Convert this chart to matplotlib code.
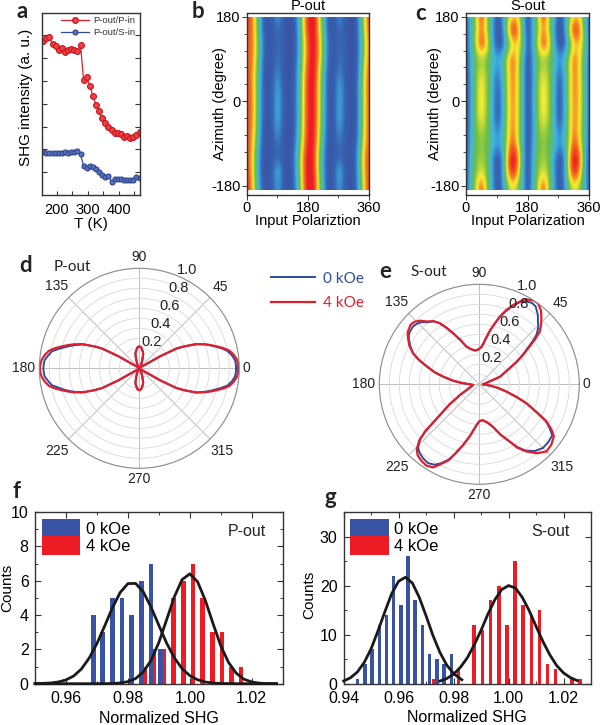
import numpy as np
import matplotlib
matplotlib.use('Agg')
import matplotlib.pyplot as plt
from matplotlib.colors import LinearSegmentedColormap
from matplotlib.patches import Rectangle
from matplotlib.ticker import MultipleLocator

# panel a
temps = [157, 167, 177, 187, 197, 207, 217, 227, 237, 247, 257, 267, 277, 287, 297, 307,
         317, 327, 337, 347, 357, 367, 377, 387, 397, 407, 417, 427, 437, 447, 457, 467]
shg_pp = [6.77, 6.87, 6.94, 6.62, 6.54, 6.36, 6.43, 6.29, 6.36, 6.39, 6.36, 6.33, 6.58, 5.04, 5.16, 4.80,
          4.34, 3.93, 3.67, 3.38, 3.17, 2.98, 2.85, 2.70, 2.73, 2.66, 2.56, 2.59, 2.49, 2.56, 2.65, 2.78]
shg_ps = [1.87, 1.86, 1.83, 1.83, 1.83, 1.86, 1.83, 1.87, 1.83, 1.87, 1.90, 1.93, 1.78, 1.29, 1.17, 1.27,
          1.24, 1.13, 1.02, 0.88, 0.80, 0.85, 0.58, 0.70, 0.69, 0.69, 0.64, 0.64, 0.64, 0.64, 0.79, 0.73]

# panels b, c: intensity rows from azimuth 180 down to -180, columns 0..360 every 15 deg
map_b = [
    [.88, .80, .44, .12, .00, .08, .24, .08, .00, .03, .22, .60, .92, .98, .66, .30, .03, .05, .22, .08, .01, .00, .24, .62, .88],
    [.85, .80, .46, .14, .00, .05, .12, .05, .00, .02, .20, .60, .92, .98, .68, .32, .04, .03, .12, .05, .01, .00, .22, .60, .85],
    [.80, .80, .50, .18, .01, .05, .12, .08, .00, .00, .18, .53, .84, .97, .74, .38, .08, .03, .12, .08, .02, .00, .18, .55, .80],
    [.82, .80, .48, .16, .00, .05, .14, .08, .00, .01, .20, .55, .86, .97, .72, .36, .06, .03, .13, .10, .03, .00, .20, .58, .82],
    [.83, .76, .42, .13, .00, .06, .18, .06, .00, .03, .24, .60, .90, .96, .66, .30, .03, .04, .18, .07, .02, .00, .24, .64, .84],
    [.85, .77, .42, .12, .00, .08, .26, .08, .00, .03, .25, .62, .92, .96, .63, .28, .02, .05, .26, .10, .02, .00, .26, .66, .85],
    [.85, .78, .42, .12, .00, .08, .28, .08, .00, .03, .25, .63, .92, .95, .63, .28, .02, .05, .26, .10, .02, .00, .25, .65, .85],
    [.85, .78, .42, .12, .00, .08, .28, .08, .00, .03, .25, .63, .92, .95, .63, .28, .02, .05, .28, .10, .02, .00, .25, .65, .85],
    [.85, .76, .40, .10, .00, .08, .24, .07, .00, .03, .26, .63, .93, .94, .62, .26, .02, .05, .22, .08, .02, .00, .26, .65, .85],
    [.84, .72, .36, .08, .00, .06, .15, .06, .00, .05, .30, .68, .95, .93, .58, .22, .01, .05, .15, .06, .02, .02, .30, .68, .84],
    [.88, .68, .30, .05, .00, .05, .10, .05, .00, .08, .38, .75, .98, .90, .50, .18, .00, .04, .10, .05, .02, .04, .38, .75, .88],
    [.88, .68, .30, .05, .00, .10, .30, .10, .00, .07, .36, .76, .99, .92, .52, .18, .00, .08, .30, .10, .01, .04, .35, .72, .88],
    [.92, .72, .34, .08, .00, .08, .22, .08, .00, .05, .30, .72, .98, .96, .56, .22, .00, .06, .22, .08, .01, .03, .30, .68, .92],
]
map_c = [
    [.10, .30, .55, .88, .55, .28, .05, .15, .45, .62, .62, .35, .00, .30, .55, .88, .55, .28, .05, .15, .45, .62, .62, .35, .08],
    [.05, .28, .55, .78, .55, .25, .02, .10, .58, .97, .82, .32, .00, .25, .50, .75, .55, .22, .00, .12, .60, .97, .82, .35, .03],
    [.05, .28, .62, .88, .70, .30, .03, .03, .30, .55, .66, .45, .02, .28, .62, .88, .70, .28, .02, .03, .35, .60, .66, .45, .04],
    [.04, .27, .45, .50, .45, .33, .25, .30, .60, .82, .62, .30, .00, .22, .45, .50, .45, .35, .20, .30, .55, .82, .62, .35, .03],
    [.03, .25, .48, .60, .50, .30, .12, .26, .55, .78, .62, .28, .00, .22, .48, .60, .50, .32, .08, .24, .55, .78, .62, .35, .03],
    [.02, .22, .50, .66, .50, .30, .07, .22, .55, .78, .62, .28, .00, .22, .50, .66, .52, .30, .04, .22, .55, .78, .65, .35, .03],
    [.02, .22, .50, .68, .50, .30, .05, .20, .55, .76, .62, .28, .00, .22, .50, .68, .52, .30, .02, .22, .55, .76, .65, .35, .03],
    [.02, .22, .50, .65, .50, .28, .04, .20, .55, .76, .62, .28, .00, .22, .50, .65, .52, .30, .02, .22, .55, .76, .65, .35, .03],
    [.02, .25, .47, .56, .47, .30, .12, .24, .55, .78, .60, .28, .00, .22, .47, .56, .47, .32, .10, .24, .55, .78, .60, .35, .03],
    [.03, .27, .45, .48, .45, .33, .22, .30, .55, .85, .60, .28, .00, .22, .45, .48, .45, .35, .20, .30, .55, .86, .62, .33, .03],
    [.03, .30, .47, .52, .47, .20, .03, .12, .70, 1.0, .85, .28, .00, .28, .47, .52, .47, .20, .03, .10, .70, 1.0, .85, .28, .03],
    [.02, .33, .50, .58, .48, .22, .03, .16, .68, .97, .74, .25, .00, .28, .50, .58, .48, .22, .03, .16, .68, .97, .74, .25, .03],
    [.04, .33, .58, .85, .52, .25, .03, .12, .45, .60, .50, .28, .00, .30, .58, .85, .52, .25, .03, .12, .45, .60, .50, .28, .04],
]

# panel d
theta_d = [0, 3, 5, 8, 11, 13.5, 16, 18, 20, 23, 26, 28, 30, 31, 38, 50, 60, 65, 70, 75, 78, 85, 90, 95, 102,
           105, 110, 115, 120, 130, 142, 149, 150, 152, 154, 157, 160, 162, 164, 166.5, 169, 172, 175, 177, 180,
           183, 185, 188, 191, 193.5, 196, 198, 200, 203, 206, 208, 210, 211, 218, 230, 240, 245, 250, 255, 258,
           265, 270, 275, 282, 285, 290, 295, 300, 310, 322, 329, 330, 332, 334, 337, 340, 342, 344, 346.5, 349,
           352, 355, 357, 360]
r_d_red = [.99, .988, .98, .955, .92, .865, .80, .75, .70, .62, .50, .42, .24, .08, .02, .01, .02, .05, .09, .15, .17, .21, .22, .21, .17,
           .15, .09, .05, .02, .01, .02, .08, .24, .42, .50, .62, .70, .75, .80, .865, .92, .955, .98, .988, .995,
           .988, .98, .955, .92, .865, .80, .75, .70, .62, .50, .42, .24, .08, .02, .01, .02, .05, .09, .15, .17,
           .21, .22, .21, .17, .15, .09, .05, .02, .01, .02, .08, .24, .42, .50, .62, .70, .75, .80, .865, .92,
           .955, .98, .988, .99]
r_d_blue = [.97, .965, .96, .935, .90, .85, .79, .745, .70, .62, .50, .42, .24, .08, .02, .01, .02, .05, .09, .15, .17, .21, .22, .21, .17,
            .15, .09, .05, .02, .01, .02, .08, .24, .42, .50, .61, .68, .725, .77, .83, .89, .92, .95, .955, .96,
            .955, .95, .92, .89, .83, .78, .735, .69, .61, .50, .42, .24, .08, .02, .01, .02, .05, .09, .15, .17,
            .21, .22, .21, .17, .15, .09, .05, .02, .01, .02, .08, .24, .42, .50, .62, .69, .735, .78, .84, .90,
            .935, .96, .965, .97]

# panel e
theta_e = [0, 20, 31, 34, 37, 39, 41, 44, 47, 50, 54, 57, 61, 64, 67, 70, 73, 76, 79, 82, 86, 91, 97, 103, 109, 113, 117,
           120, 123, 126, 130, 133, 136, 139, 143, 145, 147, 151, 155, 158, 161, 165, 168, 172, 175, 186,
           209, 214, 218, 221, 223, 226, 229, 233, 237, 241, 244, 248, 251, 255, 260, 266, 270, 275, 282, 288, 293,
           298, 301, 305, 310, 315, 320, 325, 328, 331, 334, 338, 341, 345, 349, 353, 360]
r_e_red = [.04, .22, .44, .53, .63, .72, .80, .86, .91, .96, 1.0, 1.0, .97, .92, .86, .79, .71, .62, .54, .46, .38, .35, .34, .36, .40, .48, .57,
           .65, .73, .78, .82, .87, .90, .91, .89, .875, .85, .80, .73, .65, .56, .46, .37, .27, .19, .06,
           .22, .36, .50, .72, .82, .90, .94, .96, .97, .95, .89, .82, .73, .63, .52, .41, .37, .36, .39, .45, .55,
           .65, .74, .82, .90, .95, .94, .91, .85, .77, .64, .51, .40, .28, .19, .11, .04]
r_e_blue = [.04, .22, .43, .52, .61, .69, .76, .82, .86, .91, .96, .97, .95, .91, .85, .78, .71, .62, .54, .46, .38, .35, .34, .36, .40, .48, .57,
            .65, .73, .78, .81, .85, .87, .88, .87, .86, .84, .79, .73, .65, .56, .46, .37, .27, .19, .06,
            .22, .36, .50, .71, .81, .88, .91, .93, .94, .92, .88, .81, .73, .63, .52, .41, .37, .36, .39, .45, .55,
            .65, .73, .81, .87, .90, .90, .89, .83, .76, .64, .51, .40, .28, .19, .11, .04]

# polar angle labels
angle_ticks = [0, 45, 90, 135, 180, 225, 270, 315]
angle_label_r = [1.073, 1.146, 1.11, 1.17, 1.153, 1.17, 1.107, 1.17]

# panel f
f_blue_x = [.9688, .9718, .9750, .9781, .9812, .9843, .9875, .9906]
f_blue_n = [4, 3, 5, 5, 4, 6, 7, 2]
f_red_x = [.9853, .9884, .9916, .9948, .9979, 1.0010, 1.0042, 1.0073, 1.0104, 1.0135, 1.0165]
f_red_n = [1, 2, 2, 5, 6, 7, 5, 3, 3, 1, 1]
f_fit_blue_x = [.950, .9525, .955, .9575, .960, .9625, .965, .9675, .970, .9725, .975, .9775, .980, .9825, .985, .9875,
                .990, .9925, .995, .9975, 1.000, 1.0025, 1.005, 1.0075, 1.010, 1.015, 1.028]
f_fit_blue_y = [.005, .02, .04, .10, .22, .45, .86, 1.49, 2.34, 3.36, 4.42, 5.31, 5.83, 5.84, 5.34, 4.45,
                3.40, 2.37, 1.51, .88, .47, .23, .10, .04, .015, 0, 0]
f_fit_red_x = [.950, .970, .975, .9775, .980, .9825, .985, .9875, .990, .9925, .995, .9975, 1.000, 1.0025, 1.005,
               1.0075, 1.010, 1.0125, 1.015, 1.0175, 1.020, 1.0225, 1.025, 1.028]
f_fit_red_y = [0, 0, .01, .04, .12, .30, .69, 1.36, 2.40, 3.72, 5.06, 6.06, 6.40, 5.94, 4.86,
               3.50, 2.21, 1.24, .61, .26, .10, .03, .01, 0]

# panel g
g_blue_x = [.9451, .9477, .9504, .9530, .9555, .9582, .9608, .9635, .9660, .9687, .9713, .9740, .9766, .9792]
g_blue_n = [1, 4, 7, 12, 14, 22, 16, 26, 17, 12, 6, 5, 4, 6]
g_red_x = [.9729, .9818, .9875, .9905, .9935, .9965, .9994, 1.0023, 1.0053, 1.0083, 1.0112, 1.0141, 1.0171, 1.0230, 1.0259]
g_red_n = [1, 3, 12, 11, 17, 20, 12, 25, 16, 14, 15, 4, 3, 1, 1]
g_fit_blue_x = [.940, .9425, .945, .9475, .950, .9525, .955, .9575, .960, .9625, .965, .9675, .970, .9725, .975, .9775, .980, .9825, .983]
g_fit_blue_y = [.55, 1.22, 2.40, 4.36, 7.15, 10.8, 14.7, 18.4, 20.9, 21.7, 20.5, 17.6, 13.8, 9.8, 6.4, 3.8, 2.06, 1.0, .8]
g_fit_red_x = [.975, .9775, .980, .9825, .985, .9875, .990, .9925, .995, .9975, 1.000, 1.0025, 1.005, 1.0075, 1.010, 1.0125, 1.015, 1.0175, 1.020, 1.0225, 1.025]
g_fit_red_y = [.54, 1.05, 1.94, 3.36, 5.3, 7.9, 10.9, 14.2, 17.1, 19.2, 20.0, 19.5, 17.6, 14.9, 11.7, 8.6, 5.9, 3.7, 2.2, 1.24, .63]

plt.rcParams['font.family'] = ['Liberation Sans', 'DejaVu Sans']
plt.rcParams['axes.unicode_minus'] = False
W, H = 600, 725
BLUE = '#3953A4'
RED = '#ED1C24'
DARK = '#333333'
fig = plt.figure(figsize=(6, 7.25), dpi=100)
cmap = LinearSegmentedColormap.from_list('rainbow_map', [
    (0.0, '#3953A4'), (0.1, '#3766B4'), (0.25, '#3DB4E6'), (0.45, '#6DBE45'),
    (0.62, '#F9ED32'), (0.75, '#F58220'), (0.92, '#ED1C24'), (1.0, '#E3202A')])


def axes_px(x0, y0, x1, y1, **kw):
    # pixel box with y measured from the top of the picture
    return fig.add_axes([x0 / W, 1 - y1 / H, (x1 - x0) / W, (y1 - y0) / H], **kw)


def letter(x, y, s):
    fig.text(x / W, 1 - y / H, s, family='Lato', weight='bold', size=16, ha='center', va='center', color='#222222')


def style_spines(ax):
    for sp in ax.spines.values():
        sp.set_color(DARK)
        sp.set_linewidth(1.0)


# panel a
ax = axes_px(42, 12.7, 139.5, 195)
ax.plot(temps, shg_pp, '-o', color='#E0202A', lw=0.9, ms=4.2, mec='#C4161C', mfc='#EE4046', mew=0.8, label='P-out/P-in')
ax.plot(temps, shg_ps, '-o', color='#2F4A9C', lw=0.9, ms=3.6, mec='#2E4692', mfc='#5A70B8', mew=0.8, label='P-out/S-in')
ax.set_xlim(153, 467)
ax.set_ylim(0, 8)
ax.set_xticks([200, 300, 400])
ax.xaxis.set_minor_locator(MultipleLocator(50))
ax.set_yticks(range(1, 8))
ax.set_yticklabels([])
ax.tick_params(axis='y', direction='in', left=True, right=True, length=3.5, width=0.8, color=DARK)
ax.tick_params(axis='x', which='both', direction='in', length=3, width=0.8, labelsize=10.5, pad=5.5, color=DARK)
ax.set_xlabel('T (K)', size=11, labelpad=0)
ax.set_ylabel('SHG intensity (a. u.)', size=11)
ax.yaxis.set_label_coords(-0.092, 0.537)
ax.legend(loc='upper right', frameon=False, fontsize=6.8, handlelength=3, handletextpad=0.5,
          borderaxespad=0.1, borderpad=0.3, labelspacing=0.28, labelcolor='#333333')
style_spines(ax)


# panels b, c
def heat(x0, x1, data, title, xlabel, ylab_x):
    a = axes_px(x0, 12.7, x1, 194.7)
    im = a.imshow(data, extent=[-7.5, 367.5, -195, 195], aspect='auto', cmap=cmap, vmin=0, vmax=1,
                  interpolation='bicubic', interpolation_stage='data')
    im.set_clip_path(Rectangle((0, -189), 360, 369, transform=a.transData))
    a.set_xlim(0, 360)
    a.set_ylim(-199, 188.5)
    a.set_xticks([0, 180, 360])
    a.set_yticks([-180, 0, 180])
    a.xaxis.set_minor_locator(MultipleLocator(90))
    a.yaxis.set_minor_locator(MultipleLocator(36))
    a.tick_params(which='major', length=3.5, width=0.7, labelsize=10.5, pad=1, color=DARK)
    a.tick_params(which='minor', length=2, width=0.6, color=DARK)
    a.set_xlabel(xlabel, size=10.5, labelpad=-1)
    a.set_ylabel('Azimuth (degree)', size=10.5)
    a.yaxis.set_label_coords(ylab_x, 0.5)
    a.set_title(title, size=10.5, pad=0.5)
    style_spines(a)
    return a


heat(246.7, 369, map_b, 'P-out', 'Input Polariztion', -0.161)
heat(466, 589, map_c, 'S-out', 'Input Polarization', -0.195)


# panels d, e
def polar(cx, cy, theta, r_blue, r_red):
    a = axes_px(cx - 100, cy - 100, cx + 100, cy + 100, projection='polar')
    lb, = a.plot(np.radians(theta), r_blue, color='#2E4C9E', lw=1.4)
    lr, = a.plot(np.radians(theta), r_red, color='#DF1F2D', lw=1.6)
    a.set_ylim(0, 1.0)
    a.set_yticks(np.arange(0.1, 1.01, 0.1))
    a.set_yticklabels([])
    a.set_xticks(np.radians(angle_ticks))
    a.set_xticklabels([])
    a.grid(True, color='#D9D9D9', lw=0.6)
    a.xaxis.grid(True, color='#BDBDBD', lw=0.7)
    a.spines['polar'].set_color('#8C8C8C')
    a.spines['polar'].set_linewidth(0.8)
    for ang, rr in zip(angle_ticks, angle_label_r):
        a.text(np.radians(ang), rr, str(ang), size=10, ha='center', va='center', color='#222222', clip_on=False)
    for val in [0.2, 0.4, 0.6, 0.8, 1.0]:
        a.text(np.radians(64), val + 0.09, f'{val:.1f}', size=10.5, ha='center', va='center', color='#222222', zorder=5)
    return lb, lr


polar(139.3, 368.3, theta_d, r_d_blue, r_d_red)
lb, lr = polar(479.3, 384.3, theta_e, r_e_blue, r_e_red)
fig.legend([lb, lr], ['0 kOe', '4 kOe'], loc='center left', bbox_to_anchor=(257 / W, 1 - 291 / H), frameon=False,
           handlelength=2.9, handletextpad=0.5, labelspacing=0.7, labelcolor='linecolor',
           prop={'family': 'Lato', 'size': 11})
fig.text(72.5 / W, 1 - 267 / H, 'P-out', family='Lato', size=11, ha='center', va='center', color='#222222')
fig.text(429 / W, 1 - 272.5 / H, 'S-out', family='Lato', size=11, ha='center', va='center', color='#222222')


# panels f, g
def hist(x0, x1, bx, bn, rx, rn, fits, width, xlim, ylim, xticks, xlabels, yticks, ymin, label, label_pos, ylab_pos, xpad):
    a = axes_px(x0, 512, x1, 683.7)
    a.bar(rx, rn, width=width, color=RED, lw=0, label='4 kOe', zorder=2)
    a.bar(bx, bn, width=width, color=BLUE, lw=0, label='0 kOe', zorder=2)
    for fx, fy in fits:
        a.plot(fx, fy, color='#1A1A1A', lw=2, zorder=3, clip_on=False)
    a.set_xlim(*xlim)
    a.set_ylim(*ylim)
    a.set_xticks(xticks)
    a.set_xticklabels(xlabels)
    a.set_yticks(yticks)
    a.xaxis.set_minor_locator(MultipleLocator(0.01))
    a.yaxis.set_minor_locator(MultipleLocator(ymin))
    a.tick_params(which='major', direction='in', top=True, right=True, length=4, width=0.8, labelsize=11.5, pad=4.5, color=DARK)
    a.tick_params(which='minor', direction='in', top=True, right=True, length=2.5, width=0.7, color=DARK)
    a.tick_params(axis='x', which='major', pad=5)
    a.set_xlabel('Normalized SHG', size=11.5, labelpad=xpad)
    a.set_ylabel('Counts', size=11)
    a.yaxis.set_label_coords(*ylab_pos)
    a.text(label_pos[0], label_pos[1], label, transform=a.transAxes, size=11.5, ha='center', va='center', color='#222222')
    h, l = a.get_legend_handles_labels()
    a.legend(h[::-1], l[::-1], loc='upper left', frameon=False, fontsize=12, handlelength=2.3, handleheight=1.38,
             handletextpad=0.33, labelspacing=-0.12, borderaxespad=0.2, borderpad=0.2)
    style_spines(a)
    return a


hist(35, 282.7, f_blue_x, f_blue_n, f_red_x, f_red_n,
     [(f_fit_blue_x, f_fit_blue_y), (f_fit_red_x, f_fit_red_y)], 0.0015, (0.95, 1.03), (0, 10),
     [0.96, 0.98, 1.00, 1.02], ['0.96', '0.98', '1.00', '1.02'], [0, 2, 4, 6, 8, 10], 1, 'P-out',
     (0.856, 0.889), (-0.083, 0.56), 4.2)
hist(343.7, 591, g_blue_x, g_blue_n, g_red_x, g_red_n,
     [(g_fit_blue_x, g_fit_blue_y), (g_fit_red_x, g_fit_red_y)], 0.0013, (0.94, 1.03), (0, 35),
     [0.94, 0.96, 0.98, 1.00, 1.02], ['0.94', '0.96', '0.98', '1.00', '1.02'], [0, 10, 20, 30], 5, 'S-out',
     (0.837, 0.885), (-0.112, 0.517), 3)

letter(21.7, 12, 'a')
letter(198, 12, 'b')
letter(421, 14, 'c')
letter(25.7, 266, 'd')
letter(385.7, 271, 'e')
letter(16.7, 491, 'f')
letter(330.7, 498, 'g')

fig.savefig('out.png', dpi=100)
